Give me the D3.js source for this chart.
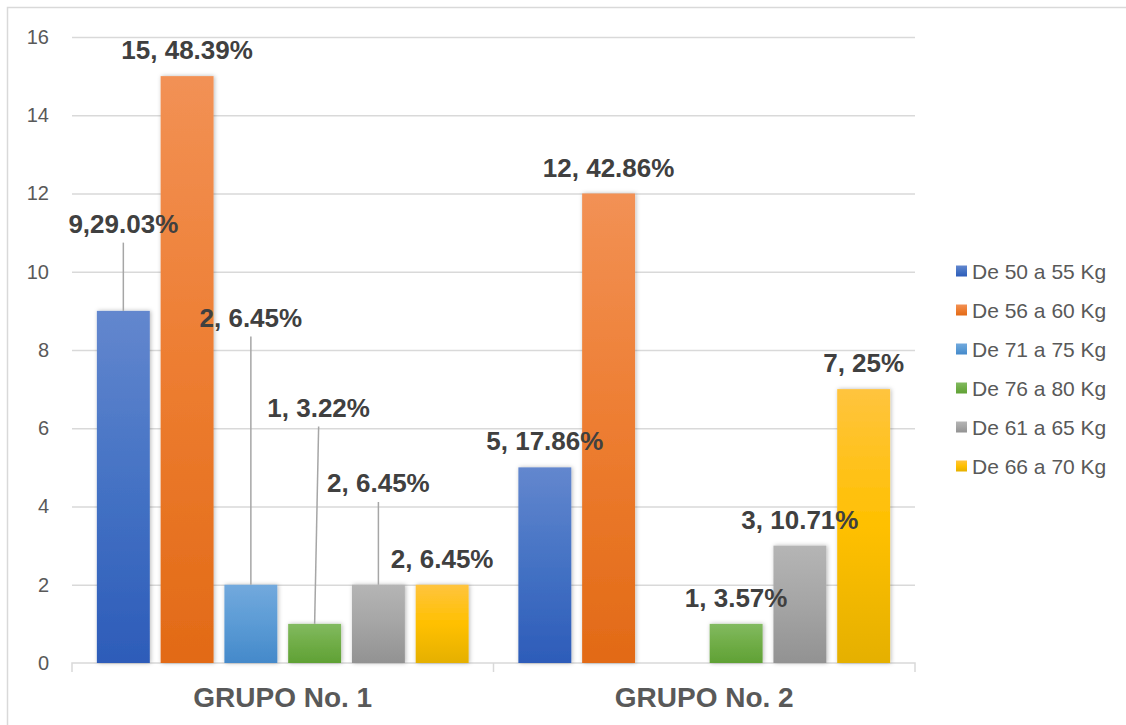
<!DOCTYPE html>
<html>
<head>
<meta charset="utf-8">
<script src="https://cdn.jsdelivr.net/npm/d3@7"></script>
<style>
  html, body { margin: 0; padding: 0; background: #ffffff; }
  svg { display: block; }
  text { font-family: "Liberation Sans", Arial, Helvetica, sans-serif; }
</style>
</head>
<body>
<svg id="chart" width="1126" height="725"></svg>
<script>
// Weight ranges per group (number of people, and share of the group)
const groups = ["GRUPO No. 1", "GRUPO No. 2"];
const series = ["De 50 a 55 Kg", "De 56 a 60 Kg", "De 71 a 75 Kg", "De 76 a 80 Kg", "De 61 a 65 Kg", "De 66 a 70 Kg"];
const countsGrupo1 = [9, 15, 2, 1, 2, 2];
const countsGrupo2 = [5, 12, 0, 1, 3, 7];
const pctGrupo1 = ["29.03", "48.39", "6.45", "3.22", "6.45", "6.45"];
const pctGrupo2 = ["17.86", "42.86", "0", "3.57", "10.71", "25"];
const yTicks = [0, 2, 4, 6, 8, 10, 12, 14, 16];

// Fill for each series: light top, base colour, darker bottom
const seriesFills = [
  ["#6387ce", "#4472c4", "#2d5cb9"],
  ["#f29155", "#ed7d31", "#e26a16"],
  ["#72a9dd", "#5b9bd5", "#4489ca"],
  ["#82ba60", "#70ad47", "#60a135"],
  ["#b5b5b5", "#a5a5a5", "#929292"],
  ["#ffc43e", "#ffc000", "#e5b000"]
];

// Labels pulled away from their bars, joined back by a leader line
// (level = label baseline in axis units, dx = horizontal shift in px)
const leaderLabels = {
  "GRUPO No. 1|De 50 a 55 Kg": { level: 11, dx: 0 },
  "GRUPO No. 1|De 71 a 75 Kg": { level: 8.6, dx: 0 },
  "GRUPO No. 1|De 76 a 80 Kg": { level: 6.3, dx: 4 },
  "GRUPO No. 1|De 61 a 65 Kg": { level: 4.37, dx: 0 }
};
const labelSeparator = { "GRUPO No. 1|De 50 a 55 Kg": "," };

const counts = [countsGrupo1, countsGrupo2];
const pcts = [pctGrupo1, pctGrupo2];
const rows = [];
groups.forEach((g, gi) => {
  series.forEach((s, si) => {
    rows.push({ group: g, series: s, si, value: counts[gi][si], pct: pcts[gi][si] });
  });
});

const svg = d3.select("#chart");
const plot = { left: 72, right: 915, top: 37, bottom: 663 };

const x0 = d3.scaleBand().domain(groups).range([plot.left, plot.right]).padding(0);
const x1 = d3.scaleBand().domain(series).range([0, x0.bandwidth()])
  .paddingInner(0.17).paddingOuter(0.39);
const y = d3.scaleLinear().domain([0, 16]).range([plot.bottom, plot.top]);

// Defs: gradients and soft bar shadow
const defs = svg.append("defs");
series.forEach((s, i) => {
  const g = defs.append("linearGradient").attr("id", "grad" + i)
    .attr("x1", 0).attr("y1", 0).attr("x2", 0).attr("y2", 1);
  g.append("stop").attr("offset", "0%").attr("stop-color", seriesFills[i][0]);
  g.append("stop").attr("offset", "50%").attr("stop-color", seriesFills[i][1]);
  g.append("stop").attr("offset", "100%").attr("stop-color", seriesFills[i][2]);
});
const f = defs.append("filter").attr("id", "barShadow")
  .attr("x", "-30%").attr("y", "-10%").attr("width", "160%").attr("height", "120%");
f.append("feDropShadow").attr("dx", 1).attr("dy", 0).attr("stdDeviation", 2.2)
  .attr("flood-color", "#000").attr("flood-opacity", 0.28);

// Chart frame
svg.append("rect").attr("x", 7.5).attr("y", 7.5).attr("width", 1130).attr("height", 730)
  .attr("fill", "none").attr("stroke", "#d9d9d9").attr("stroke-width", 1.5);

// Gridlines and y tick labels
const yAxis = d3.axisLeft(y).tickValues(yTicks).tickSize(-(plot.right - plot.left)).tickPadding(23);
const yg = svg.append("g").attr("transform", `translate(${plot.left},0)`).call(yAxis);
yg.select(".domain").remove();
yg.selectAll(".tick line").attr("stroke", "#d9d9d9").attr("stroke-width", 1.5);
yg.selectAll(".tick text").attr("fill", "#595959").attr("font-size", 20)
  .attr("font-family", "'Liberation Sans', Arial, sans-serif");
yg.selectAll(".tick").filter(d => d === 0).select("line").remove();

// Category axis
const xAxis = d3.axisBottom(x0).tickSize(0).tickPadding(0);
const xg = svg.append("g").attr("transform", `translate(0,${plot.bottom})`).call(xAxis);
xg.select(".domain").attr("stroke", "#d9d9d9").attr("stroke-width", 1.5)
  .attr("d", `M${plot.left},9V0H${plot.right}V9`);
xg.selectAll(".tick text").remove();
xg.append("line").attr("x1", x0.range()[0] + x0.bandwidth()).attr("x2", x0.range()[0] + x0.bandwidth())
  .attr("y1", 0).attr("y2", 9).attr("stroke", "#d9d9d9").attr("stroke-width", 1.5);
xg.selectAll(".grp").data(groups).join("text")
  .attr("class", "grp")
  .attr("x", d => x0(d) + x0.bandwidth() / 2)
  .attr("y", 44)
  .attr("text-anchor", "middle")
  .attr("fill", "#595959").attr("font-size", 28).attr("font-weight", "bold")
  .text(d => d);

// Bars
const barX = d => x0(d.group) + x1(d.series);
const barCx = d => barX(d) + x1.bandwidth() / 2;
svg.append("g").selectAll("rect").data(rows.filter(d => d.value > 0)).join("rect")
  .attr("x", barX)
  .attr("y", d => y(d.value))
  .attr("width", x1.bandwidth())
  .attr("height", d => y(0) - y(d.value))
  .attr("fill", d => `url(#grad${d.si})`)
  .attr("filter", "url(#barShadow)");

// Data labels and leader lines
const labelled = rows.filter(d => d.value > 0);
const keyOf = d => d.group + "|" + d.series;
const labelPos = d => {
  const l = leaderLabels[keyOf(d)];
  if (l) return { x: barCx(d) + l.dx, y: y(l.level), leader: true };
  return { x: barCx(d), y: y(d.value) - 17, leader: false };
};
svg.append("g").selectAll("line").data(labelled.filter(d => labelPos(d).leader)).join("line")
  .attr("x1", d => labelPos(d).x)
  .attr("y1", d => labelPos(d).y + 10)
  .attr("x2", d => barCx(d))
  .attr("y2", d => y(d.value))
  .attr("stroke", "#a6a6a6").attr("stroke-width", 1.5);
svg.append("g").selectAll("text").data(labelled).join("text")
  .attr("x", d => labelPos(d).x)
  .attr("y", d => labelPos(d).y)
  .attr("text-anchor", "middle")
  .attr("fill", "#404040").attr("font-size", 26).attr("font-weight", "bold")
  .text(d => `${d.value}${labelSeparator[keyOf(d)] || ", "}${d.pct}%`);

// Legend
const legend = svg.append("g").attr("transform", "translate(956,271)");
const li = legend.selectAll("g").data(series).join("g")
  .attr("transform", (d, i) => `translate(0,${i * 39})`);
li.append("rect").attr("x", 0).attr("y", -5.5).attr("width", 11).attr("height", 11)
  .attr("fill", (d, i) => `url(#grad${i})`);
li.append("text").attr("x", 16).attr("y", 0).attr("dy", "0.36em")
  .attr("fill", "#595959").attr("font-size", 21).text(d => d);
</script>
</body>
</html>
